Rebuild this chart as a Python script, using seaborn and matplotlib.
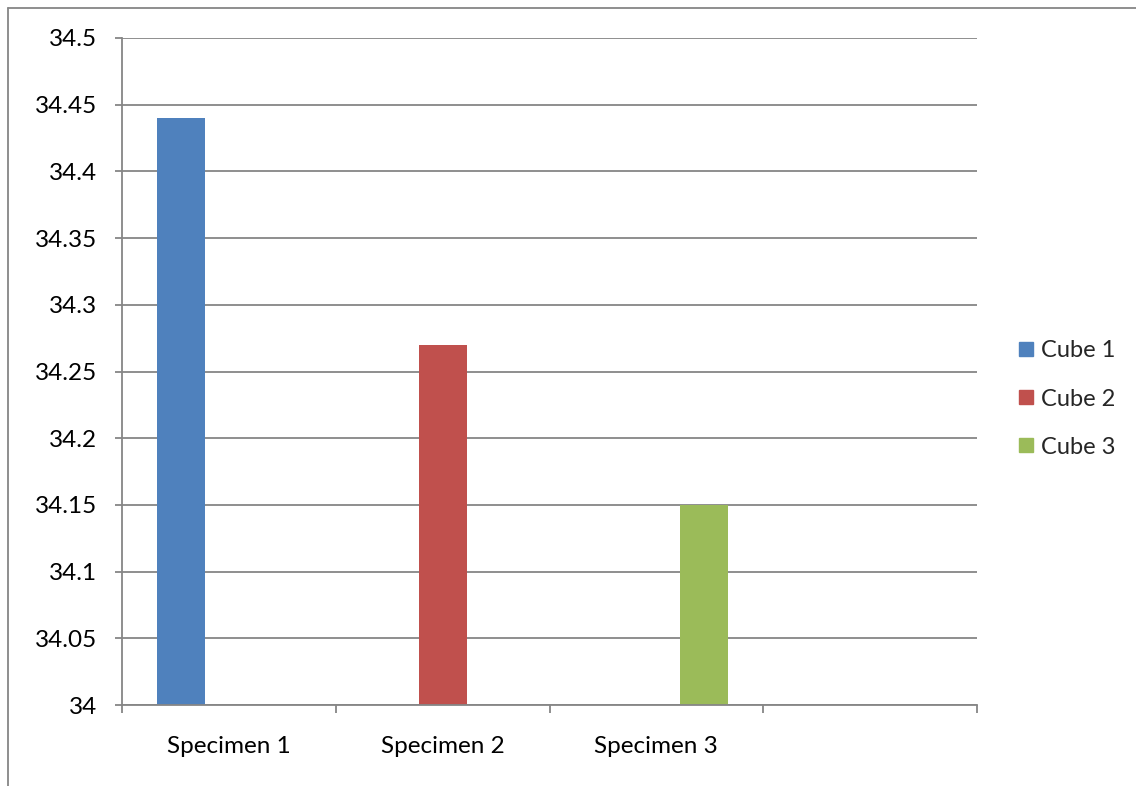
import matplotlib
matplotlib.use("Agg")
import matplotlib.pyplot as plt
from matplotlib.lines import Line2D
from matplotlib.ticker import FixedLocator, FuncFormatter
import seaborn as sns
import pandas as pd

# Values per specimen / cube
specimens = ["Specimen 1", "Specimen 2", "Specimen 3"]
cubes = ["Cube 1", "Cube 2", "Cube 3"]
values = [34.44, 34.27, 34.15]
categories = specimens + [""]
y_ticks = [34.0, 34.05, 34.1, 34.15, 34.2, 34.25, 34.3, 34.35, 34.4, 34.45, 34.5]
colors = ["#4F81BD", "#C0504D", "#9BBB59"]

df = pd.DataFrame({"specimen": specimens, "cube": cubes, "value": values})

sns.set_style("white")
plt.rcParams["font.family"] = ["Lato", "DejaVu Sans"]
FS = 17.5

fig = plt.figure(figsize=(11.36, 7.86), dpi=100)
ax = fig.add_axes([122 / 1136, 1 - 705 / 786, (977 - 122) / 1136, (705 - 38) / 786])

sns.barplot(data=df, x="specimen", y="value", hue="cube", order=categories,
            hue_order=cubes, palette=colors, width=0.673, gap=0, dodge=True,
            saturation=1, linewidth=0, ax=ax, legend=False, zorder=3)

ax.set_ylim(34.0, 34.5)
ax.set_xlim(-0.5, 3.5)

grid_c = "#868686"
ax.yaxis.set_major_locator(FixedLocator(y_ticks))
ax.yaxis.set_major_formatter(FuncFormatter(lambda v, p: f"{v:g}"))
ax.grid(axis="y", color=grid_c, linewidth=1.3, zorder=0)
ax.set_axisbelow(True)

ax.xaxis.set_major_locator(FixedLocator([-0.5, 0.5, 1.5, 2.5, 3.5]))
ax.xaxis.set_major_formatter(FuncFormatter(lambda v, p: ""))
ax.xaxis.set_minor_locator(FixedLocator([0, 1, 2, 3]))
ax.xaxis.set_minor_formatter(FuncFormatter(lambda v, p: categories[int(round(v))]))
ax.tick_params(axis="x", which="major", direction="out", length=6, width=1.3,
               color=grid_c, bottom=True)
ax.tick_params(axis="x", which="minor", length=0, pad=22, labelsize=FS,
               labelcolor="black", bottom=True)
ax.tick_params(axis="y", direction="out", length=5, width=1.3, color=grid_c,
               pad=13, labelsize=FS, labelcolor="black", left=True)

for side in ["top", "right"]:
    ax.spines[side].set_visible(False)
for side in ["left", "bottom"]:
    ax.spines[side].set_color(grid_c)
    ax.spines[side].set_linewidth(1.3)
    ax.spines[side].set_zorder(4)

ax.set_xlabel("")
ax.set_ylabel("")

# Legend
handles = [Line2D([], [], marker="s", linestyle="none", markersize=10,
                  markerfacecolor=c, markeredgecolor=c) for c in colors]
fig.legend(handles, cubes, loc="center left", bbox_to_anchor=(1006 / 1136, 1 - 399 / 786),
           frameon=False, fontsize=17, handlelength=0.7, handletextpad=0.3,
           labelspacing=1.15, borderpad=0)

# Outer chart border (left and top edges)
fig.add_artist(Line2D([8 / 1136, 8 / 1136], [0, 1 - 8 / 786], transform=fig.transFigure,
                      color=grid_c, linewidth=1.3))
fig.add_artist(Line2D([8 / 1136, 1], [1 - 8 / 786, 1 - 8 / 786], transform=fig.transFigure,
                      color=grid_c, linewidth=1.3))

fig.savefig("out.png", dpi=100, facecolor="white")
